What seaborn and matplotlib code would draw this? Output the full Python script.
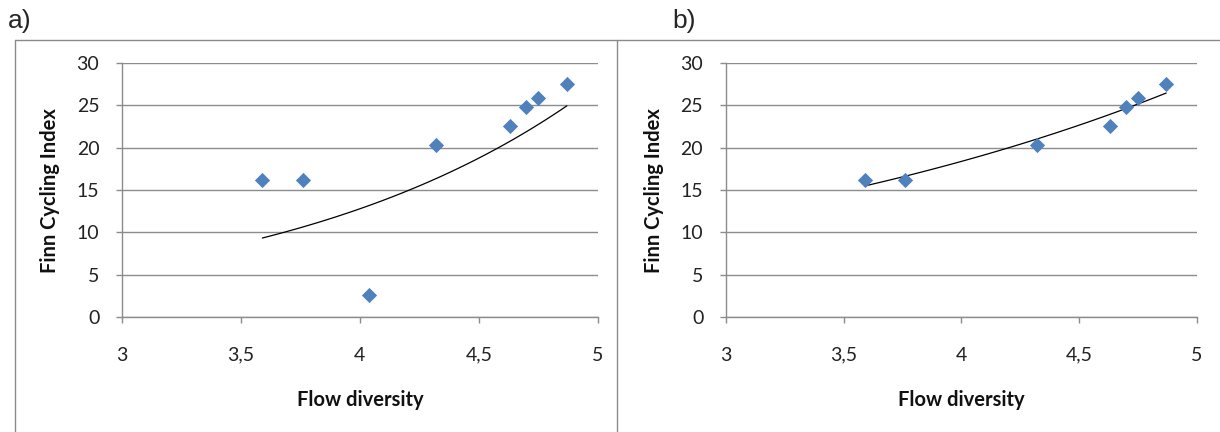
import numpy as np
import pandas as pd
import matplotlib
matplotlib.use("Agg")
import matplotlib.pyplot as plt
from matplotlib.lines import Line2D
from matplotlib.ticker import FuncFormatter
import seaborn as sns

# data
flow_diversity = [3.59, 3.76, 4.04, 4.32, 4.63, 4.70, 4.75, 4.87]
finn_cycling = [16.2, 16.2, 2.6, 20.3, 22.6, 24.8, 25.9, 27.5]
outlier_index = 2          # dropped in panel b
panel_labels = ["a)", "b)"]
x_ticks = [3, 3.5, 4, 4.5, 5]
y_ticks = [0, 5, 10, 15, 20, 25, 30]

sns.set_theme(style="white")
plt.rcParams["font.family"] = ["Lato", "DejaVu Sans"]

df_a = pd.DataFrame({"x": flow_diversity, "y": finn_cycling})
df_b = df_a.drop(index=outlier_index).reset_index(drop=True)

grid_col = "#8c8c8c"
marker_col = "#4f81bd"


def exp_trend(df):
    # Excel-style exponential trendline: fit ln(y) = ln(a) + b*x
    b, ln_a = np.polyfit(df["x"], np.log(df["y"]), 1)
    xs = np.linspace(df["x"].min(), df["x"].max(), 100)
    return pd.DataFrame({"x": xs, "y": np.exp(ln_a) * np.exp(b * xs)})


fig = plt.figure(figsize=(12.2, 4.32), dpi=100)
ax_a = fig.add_axes([0.100, 0.266, 0.390, 0.588])
ax_b = fig.add_axes([0.595, 0.266, 0.386, 0.588])

for ax, df in [(ax_a, df_a), (ax_b, df_b)]:
    sns.lineplot(data=exp_trend(df), x="x", y="y", ax=ax, color="black",
                 linewidth=0.9, zorder=2)
    sns.scatterplot(data=df, x="x", y="y", ax=ax, marker="D", s=60,
                    color=marker_col, edgecolor=marker_col, linewidth=0,
                    zorder=3)
    ax.set_xlim(3, 5)
    ax.set_ylim(0, 30)
    ax.set_xticks(x_ticks)
    ax.set_yticks(y_ticks)
    ax.xaxis.set_major_formatter(FuncFormatter(lambda v, p: f"{v:g}".replace(".", ",")))
    ax.yaxis.grid(True, color=grid_col, linewidth=1.0)
    ax.set_axisbelow(True)
    for side in ["top", "right"]:
        ax.spines[side].set_visible(False)
    for side in ["left", "bottom"]:
        ax.spines[side].set_color(grid_col)
        ax.spines[side].set_linewidth(1.0)
    ax.tick_params(axis="x", direction="out", length=4.3, width=1.0,
                   color=grid_col, pad=17, labelsize=14, labelcolor="#222222")
    ax.tick_params(axis="y", direction="out", length=4.3, width=1.0,
                   color=grid_col, pad=12, labelsize=14, labelcolor="#222222")
    ax.tick_params(bottom=True, left=True)
    ax.set_xlabel("Flow diversity", fontsize=14.5, fontweight="bold",
                  color="#111111", labelpad=19)
    ax.set_ylabel("Finn Cycling Index", fontsize=14.5, fontweight="bold",
                  color="#111111", labelpad=12)

# panel frames
W, H = 1220, 432
frame_col = "#8a8a8a"
fig.add_artist(Line2D([15 / W, 1.0], [1 - 40 / H] * 2, color=frame_col, linewidth=1.0))
fig.add_artist(Line2D([15 / W] * 2, [0, 1 - 40 / H], color=frame_col, linewidth=1.0))
fig.add_artist(Line2D([617 / W] * 2, [0, 1 - 40 / H], color=frame_col, linewidth=1.0))

fig.text(8 / W, 1 - 21 / H, panel_labels[0], fontsize=19, va="center",
         family=["Liberation Sans", "DejaVu Sans"])
fig.text(672 / W, 1 - 21 / H, panel_labels[1], fontsize=19, va="center",
         family=["Liberation Sans", "DejaVu Sans"])

fig.savefig("out.png", dpi=100, facecolor="white")
